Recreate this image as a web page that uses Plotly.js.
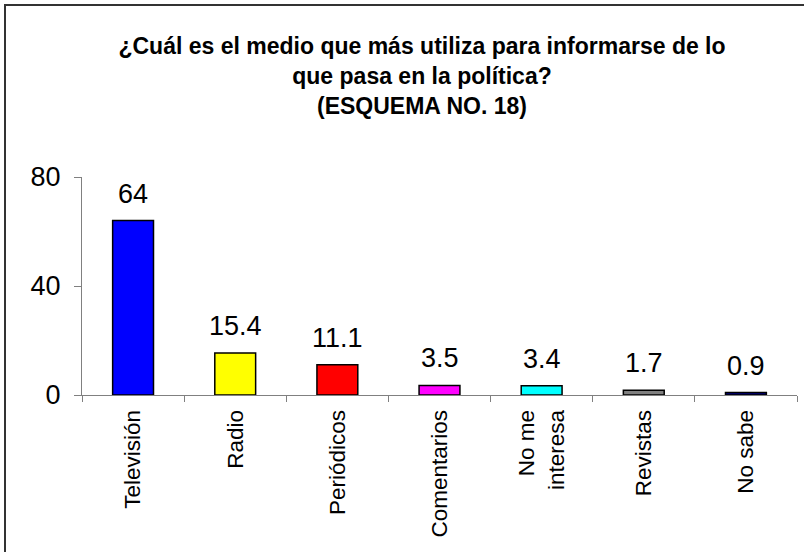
<!DOCTYPE html>
<html>
<head>
<meta charset="utf-8">
<script src="https://cdn.plot.ly/plotly-3.0.1.min.js"></script>
<style>html,body{margin:0;padding:0;background:#fff;}#chart{width:804px;height:552px;}</style>
</head>
<body>
<div id="chart"></div>
<script>
const categories = ["Televisión", "Radio", "Periódicos", "Comentarios", "No me<br>interesa", "Revistas", "No sabe"];
const values = [64, 15.4, 11.1, 3.5, 3.4, 1.7, 0.9];
const barColors = ["#0000FF", "#FFFF00", "#FF0000", "#FF00FF", "#00FFFF", "#808080", "#000080"];
const yTicks = [0, 40, 80];
const titleText = "¿Cuál es el medio que más utiliza para informarse de lo<br>que pasa en la política?<br>(ESQUEMA NO. 18)";

const L = 82, R = 7, T = 177, B = 157, W = 804, H = 552;
const pw = W - L - R, ph = H - T - B;
const px = X => (X - L) / pw;
const py = Y => (H - B - Y) / ph;

const trace = {
  type: "bar",
  x: categories,
  y: values,
  marker: {color: barColors, line: {color: "#000", width: 1.5}},
  hoverinfo: "none"
};

const annotations = categories.map((c, i) => ({
  x: c, y: values[i], xref: "x", yref: "y",
  text: String(values[i]),
  showarrow: false, yanchor: "bottom", yshift: 10,
  font: {family: "Liberation Sans, Arial, sans-serif", size: 27, color: "#000"}
}));

const layout = {
  width: W, height: H,
  margin: {l: L, r: R, t: T, b: B, pad: 0},
  paper_bgcolor: "#fff", plot_bgcolor: "#fff",
  showlegend: false,
  bargap: 0.6,
  title: {
    text: titleText,
    font: {family: "Liberation Sans, Arial, sans-serif", size: 23, color: "#000", weight: "bold"},
    x: 422 / W, xref: "container", xanchor: "center",
    y: 1 - 54 / H, yref: "container", yanchor: "top"
  },
  xaxis: {
    type: "category",
    showgrid: false, zeroline: false,
    showline: true, linecolor: "#808080", linewidth: 1,
    ticks: "outside", ticklen: 6, tickcolor: "#808080", tickson: "boundaries",
    tickangle: -90, ticklabelstandoff: 5,
    tickfont: {family: "Liberation Sans, Arial, sans-serif", size: 22.5, color: "#000"},
    fixedrange: true
  },
  yaxis: {
    range: [0, 80],
    tickvals: yTicks,
    showgrid: false, zeroline: false,
    showline: true, linecolor: "#808080", linewidth: 1,
    ticks: "outside", ticklen: 7, tickcolor: "#808080",
    ticklabelstandoff: 8,
    tickfont: {family: "Liberation Sans, Arial, sans-serif", size: 27, color: "#000"},
    fixedrange: true
  },
  annotations: annotations,
  shapes: [
    {type: "line", xref: "paper", yref: "paper", x0: px(5), x1: px(5), y0: py(4), y1: py(552), line: {color: "#333", width: 2}},
    {type: "line", xref: "paper", yref: "paper", x0: px(4), x1: px(804), y0: py(5), y1: py(5), line: {color: "#333", width: 2}}
  ]
};

Plotly.newPlot("chart", [trace], layout, {displayModeBar: false, staticPlot: true});
</script>
</body>
</html>
